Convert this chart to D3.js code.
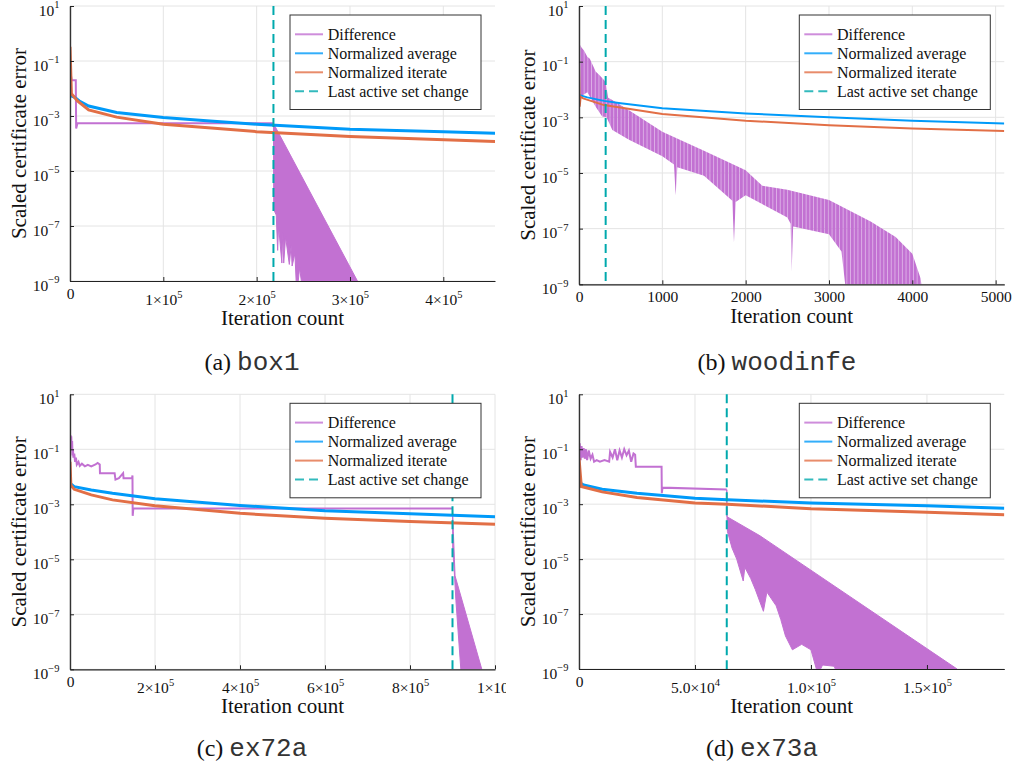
<!DOCTYPE html>
<html><head><meta charset="utf-8">
<script src="https://cdn.jsdelivr.net/npm/d3@7"></script>
<style>body{margin:0;background:#fff}svg{display:block}</style>
</head><body>
<svg id="fig" width="1012" height="771"></svg>
<script>
// ---------- shared ----------
const seriesNames = ["Difference", "Normalized average", "Normalized iterate", "Last active set change"];
const seriesColors = ["#c271d2", "#009af9", "#e26f46", "#00a9ad"];
const yTickValues = [1e1, 1e-1, 1e-3, 1e-5, 1e-7, 1e-9];
const yTickExp = ["1", "\u22121", "\u22123", "\u22125", "\u22127", "\u22129"];
const yLabel = "Scaled certificate error";
const xLabel = "Iteration count";

// ---------- (a) box1 ----------
const box1XTicks = [0, 1e5, 2e5, 3e5, 4e5];
const box1XTickBase = ["0", "1\u00d710", "2\u00d710", "3\u00d710", "4\u00d710"];
const box1XTickExp = ["", "5", "5", "5", "5"];
const box1AvgT = [0, 5e3, 1e4, 2e4, 5e4, 1e5, 1.5e5, 2e5, 3e5, 4e5, 4.56e5];
const box1Avg = [5.6e-3, 4.8e-3, 3.5e-3, 2.3e-3, 1.35e-3, 8.9e-4, 6.6e-4, 5.0e-4, 3.3e-4, 2.7e-4, 2.35e-4];
const box1IterT = [0, 1.5e3, 8e3, 2e4, 5e4, 1e5, 2e5, 3e5, 4.56e5];
const box1Iter = [0.33, 6.5e-3, 3.5e-3, 1.66e-3, 9.1e-4, 5.0e-4, 2.7e-4, 1.8e-4, 1.17e-4];
const box1DiffT = [0, 1.8e3, 6.2e3, 6.6e3, 8e3, 2.18e5];
const box1Diff = [0.05, 0.02, 0.02, 3.5e-4, 5.4e-4, 5.4e-4];
const box1BandHiT = [2.18e5, 3.08e5, 3.1e5];
const box1BandHi = [5.4e-4, 1e-9, 3e-10];
const box1BandLoT = [2.18e5, 2.183e5, 2.21e5, 2.225e5, 2.235e5, 2.27e5, 2.28e5, 2.29e5, 2.31e5, 2.35e5, 2.37e5, 2.38e5, 2.41e5, 2.43e5, 2.46e5, 2.5e5, 3.1e5];
const box1BandLo = [5.4e-4, 4e-7, 2.5e-7, 1.3e-8, 1e-7, 4.5e-9, 6e-8, 4.5e-9, 4e-8, 4e-9, 2e-8, 3.5e-9, 1e-8, 3e-10, 3e-9, 3e-10, 3e-10];
const box1LastChange = 2.18e5;

// ---------- (b) woodinfe ----------
const woodXTicks = [0, 1000, 2000, 3000, 4000, 5000];
const woodXTickBase = ["0", "1000", "2000", "3000", "4000", "5000"];
const woodXTickExp = ["", "", "", "", "", ""];
const woodAvgT = [0, 100, 300, 500, 1000, 2000, 3000, 4000, 5104];
const woodAvg = [6.3e-3, 5.2e-3, 3.9e-3, 3.2e-3, 2.1e-3, 1.38e-3, 1.0e-3, 7.6e-4, 6.0e-4];
const woodIterT = [0, 8, 20, 50, 300, 1000, 2000, 3000, 4000, 5104];
const woodIter = [0.1, 2.4e-3, 5.5e-3, 4.8e-3, 2.75e-3, 1.32e-3, 7.6e-4, 5.2e-4, 4.0e-4, 3.2e-4];
const woodDiffT = [];
const woodDiff = [];
const woodBandHiT = [0, 30, 60, 100, 130, 200, 250, 300, 320, 350, 400, 600, 1000, 1500, 2000, 2200, 2500, 3000, 3500, 3800, 4000, 4100, 4130];
const woodBandHi = [0.47, 0.32, 0.25, 0.15, 0.126, 0.044, 0.032, 0.022, 0.018, 5e-3, 4.2e-3, 1.8e-3, 3.0e-4, 6.3e-5, 1.26e-5, 3.5e-6, 2.5e-6, 1.07e-6, 1.8e-7, 5e-8, 1.26e-8, 1.6e-9, 3.2e-10];
const woodBandLoT = [0, 100, 200, 280, 300, 330, 400, 600, 1000, 1140, 1160, 1180, 1500, 1840, 1860, 1880, 2000, 2500, 2540, 2552, 2570, 3000, 3150, 3213, 3250, 4130];
const woodBandLo = [5e-3, 8e-3, 2.4e-3, 1.05e-3, 1.05e-3, 1e-3, 3.5e-4, 1.55e-4, 4e-5, 2e-5, 1.6e-6, 1.6e-5, 7.9e-6, 1e-6, 3.2e-8, 9e-7, 1.6e-6, 2.5e-7, 1.5e-7, 2.8e-9, 1.2e-7, 6.3e-8, 1.5e-8, 3.2e-10, 3.2e-10, 3.2e-10];
const woodLastChange = 320;

// ---------- (c) ex72a ----------
const ex72XTicks = [0, 2e5, 4e5, 6e5, 8e5, 1e6];
const ex72XTickBase = ["0", "2\u00d710", "4\u00d710", "6\u00d710", "8\u00d710", "1\u00d710"];
const ex72XTickExp = ["", "5", "5", "5", "5", "6"];
const ex72AvgT = [0, 1e4, 5e4, 1e5, 2e5, 4e5, 6e5, 8e5, 1e6];
const ex72Avg = [5.8e-3, 4.4e-3, 3.3e-3, 2.5e-3, 1.58e-3, 9.1e-4, 5.8e-4, 4.5e-4, 3.5e-4];
const ex72IterT = [0, 2e3, 1e4, 5e4, 1e5, 2e5, 4e5, 6e5, 8e5, 1e6];
const ex72Iter = [0.035, 5e-3, 3.5e-3, 2.2e-3, 1.45e-3, 8.9e-4, 4.7e-4, 3.1e-4, 2.35e-4, 1.9e-4];
const ex72DiffT = [0, 1e3, 2e3, 3e3, 4e3, 5e3, 6e3, 7e3, 8e3, 1e4, 1.2e4, 1.4e4, 1.6e4, 2e4, 2.3e4, 2.8e4, 3.5e4, 4.2e4, 5e4, 6e4, 6.5e4, 7e4, 7.05e4, 1.05e5, 1.07e5, 1.15e5, 1.25e5, 1.26e5, 1.46e5, 1.47e5, 1.475e5, 1.49e5, 9.0e5];
const ex72Diff = [0.04, 0.33, 0.15, 0.3, 0.1, 0.2, 0.06, 0.1, 0.05, 0.07, 0.035, 0.05, 0.028, 0.035, 0.025, 0.03, 0.024, 0.027, 0.024, 0.028, 0.032, 0.028, 0.0135, 0.0135, 0.0079, 0.0089, 0.0135, 0.0089, 0.0089, 0.0112, 3.8e-4, 7.1e-4, 7.1e-4];
const ex72BandHiT = [9.0e5, 9.02e5, 9.06e5, 9.69e5, 9.75e5];
const ex72BandHi = [7.1e-4, 1e-4, 2.5e-6, 1e-9, 3e-10];
const ex72BandLoT = [9.0e5, 9.005e5, 9.04e5, 9.08e5, 9.22e5, 9.75e5];
const ex72BandLo = [7.1e-4, 2.5e-5, 4e-6, 3.2e-7, 3e-10, 3e-10];
const ex72LastChange = 9.0e5;

// ---------- (d) ex73a ----------
const ex73XTicks = [0, 5e4, 1e5, 1.5e5];
const ex73XTickBase = ["0", "5.0\u00d710", "1.0\u00d710", "1.5\u00d710"];
const ex73XTickExp = ["", "4", "5", "5"];
const ex73AvgT = [0, 2e3, 1e4, 2.5e4, 5e4, 6.4e4, 1e5, 1.5e5, 1.834e5];
const ex73Avg = [6.3e-3, 5e-3, 3.5e-3, 2.5e-3, 1.66e-3, 1.45e-3, 1.1e-3, 8.7e-4, 7.1e-4];
const ex73IterT = [0, 1e3, 1e4, 2.5e4, 5e4, 6.4e4, 1e5, 1.5e5, 1.834e5];
const ex73Iter = [0.047, 4.4e-3, 2.8e-3, 1.74e-3, 1.1e-3, 1.0e-3, 6.8e-4, 5.1e-4, 4.1e-4];
const ex73DiffT = [0, 300, 700, 1100, 1500, 2000, 2500, 3000, 3500, 4200, 5000, 5800, 6500, 7600, 9000, 1.1e4, 1.3e4, 1.34e4, 1.45e4, 1.55e4, 1.65e4, 1.75e4, 1.85e4, 1.95e4, 2.05e4, 2.15e4, 2.25e4, 2.35e4, 2.42e4, 2.45e4, 3.56e4, 3.57e4, 3.6e4, 6.37e4];
const ex73Diff = [0.028, 0.166, 0.04, 0.13, 0.05, 0.11, 0.045, 0.1, 0.04, 0.09, 0.045, 0.063, 0.035, 0.04, 0.035, 0.04, 0.035, 0.08, 0.05, 0.1, 0.04, 0.09, 0.05, 0.1, 0.06, 0.09, 0.035, 0.07, 0.063, 0.023, 0.023, 2.5e-3, 4e-3, 3.4e-3];
const ex73BandHiT = [6.37e4, 6.38e4, 7.8e4, 1.63e5, 1.66e5];
const ex73BandHi = [3.4e-3, 3.5e-4, 7.1e-5, 1e-9, 3e-10];
const ex73BandLoT = [6.37e4, 6.38e4, 6.4e4, 6.6e4, 6.8e4, 7.08e4, 7.15e4, 7.4e4, 7.6e4, 7.95e4, 8.1e4, 8.5e4, 8.7e4, 8.9e4, 9.2e4, 9.6e4, 1.0e5, 1.03e5, 1.05e5, 1.1e5, 1.13e5, 1.66e5];
const ex73BandLo = [3.4e-3, 3.2e-4, 1e-4, 2.5e-5, 1e-5, 1.6e-6, 5e-6, 2e-6, 7.9e-7, 1.26e-7, 6.3e-7, 2e-7, 6.3e-8, 1.6e-8, 5e-9, 7.9e-9, 5e-9, 6.3e-10, 1.4e-9, 1.26e-9, 3e-10, 3e-10];
const ex73LastChange = 6.37e4;

// ---------- drawing ----------
const SERIF = "'Liberation Serif', 'Times New Roman', serif";
const MONO = "'Liberation Mono', 'Courier New', monospace";
const svg = d3.select("#fig");
const zip = (t, v) => t.map((d, i) => [d, v[i]]);

const panels = [
  {id: "a", left: 70, top: 6, width: 425, height: 275, xMax: 4.554e5, xTicks: box1XTicks, xBase: box1XTickBase, xExp: box1XTickExp,
   avgT: box1AvgT, avg: box1Avg, iterT: box1IterT, iter: box1Iter, diffT: box1DiffT, diff: box1Diff,
   hiT: box1BandHiT, hi: box1BandHi, loT: box1BandLoT, lo: box1BandLo, last: box1LastChange,
   lw: 3, xLabelGap: 44, cap: ["(a) ", "box1"], capX: 252, capY: 370, tickClip: null, comb: false},
  {id: "b", left: 579, top: 6, width: 425.3, height: 278.3, xMax: 5104, xTicks: woodXTicks, xBase: woodXTickBase, xExp: woodXTickExp,
   avgT: woodAvgT, avg: woodAvg, iterT: woodIterT, iter: woodIter, diffT: woodDiffT, diff: woodDiff,
   hiT: woodBandHiT, hi: woodBandHi, loT: woodBandLoT, lo: woodBandLo, last: woodLastChange,
   lw: 2, xLabelGap: 38.5, cap: ["(b) ", "woodinfe"], capX: 777, capY: 370, tickClip: null, comb: true},
  {id: "c", left: 70, top: 394.3, width: 425, height: 275, xMax: 1e6, xTicks: ex72XTicks, xBase: ex72XTickBase, xExp: ex72XTickExp,
   avgT: ex72AvgT, avg: ex72Avg, iterT: ex72IterT, iter: ex72Iter, diffT: ex72DiffT, diff: ex72Diff,
   hiT: ex72BandHiT, hi: ex72BandHi, loT: ex72BandLoT, lo: ex72BandLo, last: ex72LastChange,
   lw: 3, xLabelGap: 44, cap: ["(c) ", "ex72a"], capX: 252, capY: 756, tickClip: 506, comb: false},
  {id: "d", left: 579, top: 394.3, width: 425.3, height: 274.7, xMax: 1.8335e5, xTicks: ex73XTicks, xBase: ex73XTickBase, xExp: ex73XTickExp,
   avgT: ex73AvgT, avg: ex73Avg, iterT: ex73IterT, iter: ex73Iter, diffT: ex73DiffT, diff: ex73Diff,
   hiT: ex73BandHiT, hi: ex73BandHi, loT: ex73BandLoT, lo: ex73BandLo, last: ex73LastChange,
   lw: 3, xLabelGap: 44, cap: ["(d) ", "ex73a"], capX: 762, capY: 756, tickClip: null, comb: false}
];

const defs = svg.append("defs");
const comb = defs.append("pattern").attr("id", "comb").attr("patternUnits", "userSpaceOnUse")
  .attr("width", 3.7).attr("height", 10);
comb.append("rect").attr("x", 0).attr("y", 0).attr("width", 3.7).attr("height", 10)
  .attr("fill", seriesColors[0]).attr("fill-opacity", 0.55);
comb.append("rect").attr("x", 0).attr("y", 0).attr("width", 2.8).attr("height", 10)
  .attr("fill", seriesColors[0]);

panels.forEach(p => {
  const x = d3.scaleLinear().domain([0, p.xMax]).range([p.left, p.left + p.width]);
  const y = d3.scaleLog().domain([1e-9, 10]).range([p.top + p.height, p.top]);
  const bottom = p.top + p.height;
  const g = svg.append("g");

  defs.append("clipPath").attr("id", "clip-" + p.id).append("rect")
    .attr("x", p.left).attr("y", p.top - 2).attr("width", p.width).attr("height", p.height + 2);

  // grid
  g.append("g").selectAll("line").data(p.xTicks).join("line")
    .attr("x1", d => x(d)).attr("x2", d => x(d)).attr("y1", p.top).attr("y2", bottom)
    .attr("stroke", "#e4e4e4").attr("stroke-width", 1);
  g.append("g").selectAll("line").data(yTickValues).join("line")
    .attr("x1", p.left).attr("x2", p.left + p.width).attr("y1", d => y(d)).attr("y2", d => y(d))
    .attr("stroke", "#e4e4e4").attr("stroke-width", 1);

  // series
  const plot = g.append("g").attr("clip-path", `url(#clip-${p.id})`);
  const line = d3.line().x(d => x(d[0])).y(d => y(d[1]));
  const band = zip(p.hiT, p.hi).concat(zip(p.loT, p.lo).reverse());
  plot.append("path").attr("d", line(band) + "Z")
    .attr("fill", p.comb ? "url(#comb)" : seriesColors[0])
    .attr("stroke", p.comb ? "none" : seriesColors[0]).attr("stroke-width", 1).attr("stroke-linejoin", "round");
  if (p.diffT.length) {
    plot.append("path").attr("d", line(zip(p.diffT, p.diff))).attr("fill", "none")
      .attr("stroke", seriesColors[0]).attr("stroke-width", 2);
  }
  plot.append("path").attr("d", line(zip(p.avgT, p.avg)))
    .attr("fill", "none").attr("stroke", seriesColors[1]).attr("stroke-width", p.lw);
  plot.append("path").attr("d", line(zip(p.iterT, p.iter)))
    .attr("fill", "none").attr("stroke", seriesColors[2]).attr("stroke-width", p.lw);
  plot.append("line").attr("x1", x(p.last)).attr("x2", x(p.last)).attr("y1", p.top).attr("y2", bottom)
    .attr("stroke", seriesColors[3]).attr("stroke-width", 2).attr("stroke-dasharray", "9,5");

  // x axis
  const xAxisG = g.append("g").attr("transform", `translate(0,${bottom})`)
    .call(d3.axisBottom(x).tickValues(p.xTicks).tickSizeInner(-4).tickSizeOuter(0).tickFormat(() => ""));
  xAxisG.select(".domain").attr("stroke", "#222").attr("stroke-width", 1.2);
  xAxisG.selectAll(".tick line").attr("stroke", "#222");
  if (p.tickClip) {
    defs.append("clipPath").attr("id", "tclip-" + p.id).append("rect")
      .attr("x", 0).attr("y", -10).attr("width", p.tickClip).attr("height", 60);
    xAxisG.attr("clip-path", `url(#tclip-${p.id})`);
  }
  xAxisG.selectAll(".tick").each(function (d, i) {
    const t = d3.select(this).select("text");
    t.text(null).attr("dy", null).attr("fill", "#111")
      .attr("font-family", SERIF).attr("font-size", 15.5);
    if (p.xExp[i]) {
      t.attr("y", 24);
      t.append("tspan").text(p.xBase[i]);
      t.append("tspan").attr("dy", -6.8).attr("font-size", 10.5).text(p.xExp[i]);
    } else {
      t.attr("y", 17.5);
      t.append("tspan").text(p.xBase[i]);
    }
  });

  // y axis
  const yAxisG = g.append("g").attr("transform", `translate(${p.left},0)`)
    .call(d3.axisLeft(y).tickValues(yTickValues).tickSizeInner(-4).tickSizeOuter(0).tickFormat(() => ""));
  yAxisG.select(".domain").attr("stroke", "#333").attr("stroke-width", 1.4);
  yAxisG.selectAll(".tick line").attr("stroke", "#222");
  yAxisG.selectAll(".tick").each(function (d, i) {
    const t = d3.select(this).select("text");
    t.text(null).attr("dy", null).attr("x", -10.5).attr("y", 9.3).attr("fill", "#111")
      .attr("text-anchor", "end").attr("font-family", SERIF).attr("font-size", 15.5);
    t.append("tspan").text("10");
    t.append("tspan").attr("dy", -7.6).attr("font-size", 10.5).text(yTickExp[i]);
  });

  // axis labels
  g.append("text").attr("x", p.left + p.width / 2).attr("y", bottom + p.xLabelGap)
    .attr("text-anchor", "middle").attr("font-family", SERIF).attr("font-size", 21).attr("fill", "#111")
    .text(xLabel);
  g.append("text").attr("transform", `translate(${p.left - 44.5},${p.top + p.height / 2}) rotate(-90)`)
    .attr("text-anchor", "middle").attr("font-family", SERIF).attr("font-size", 21).attr("fill", "#111")
    .text(yLabel);

  // legend
  const lx = p.left + p.width - 14 - 191, ly = p.top + 9;
  const lg = g.append("g").attr("transform", `translate(${lx},${ly})`);
  lg.append("rect").attr("x", 0).attr("y", 0).attr("width", 191).attr("height", 94.5)
    .attr("fill", "#fff").attr("stroke", "#333").attr("stroke-width", 1);
  seriesNames.forEach((name, i) => {
    const ry = 19.3 + 19 * i;
    lg.append("line").attr("x1", 5).attr("x2", 33).attr("y1", ry).attr("y2", ry)
      .attr("stroke", seriesColors[i]).attr("stroke-width", 2).attr("stroke-opacity", 0.8)
      .attr("stroke-dasharray", i === 3 ? "9,5" : null);
    lg.append("text").attr("x", 37.7).attr("y", ry + 5.3)
      .attr("font-family", SERIF).attr("font-size", 16).attr("fill", "#111").text(name);
  });

  // caption
  const cap = svg.append("text").attr("x", p.capX).attr("y", p.capY).attr("text-anchor", "middle").attr("fill", "#111");
  cap.append("tspan").attr("font-family", SERIF).attr("font-size", 24).text(p.cap[0]);
  cap.append("tspan").attr("font-family", MONO).attr("font-size", 26).attr("fill", "#333").text(p.cap[1]);
});
</script>
</body></html>
